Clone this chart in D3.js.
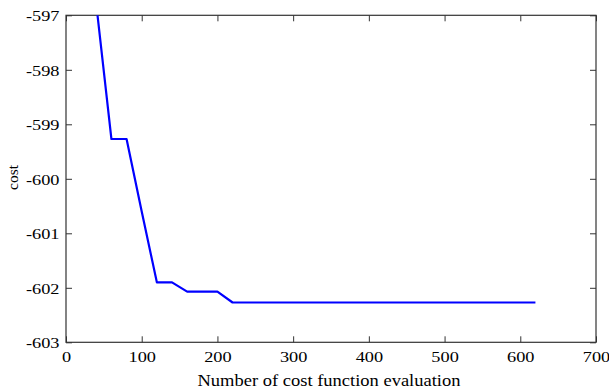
<!DOCTYPE html>
<html><head><meta charset="utf-8">
<script src="https://cdn.jsdelivr.net/npm/d3@7"></script>
<style>
html,body{margin:0;padding:0;background:#fff;}
svg{display:block;}
svg text{font-family:"Liberation Serif","Times New Roman",serif;}
</style></head>
<body><svg id="c" width="609" height="392"></svg>
<script>
const evals = [40,60,80,100,120,140,160,180,200,220,240,260,280,300,320,340,360,380,400,420,440,460,480,500,520,540,560,580,600,620];
const costs = [-596.8,-599.27,-599.27,-600.6,-601.9,-601.9,-602.07,-602.07,-602.07,-602.27,-602.27,-602.27,-602.27,-602.27,-602.27,-602.27,-602.27,-602.27,-602.27,-602.27,-602.27,-602.27,-602.27,-602.27,-602.27,-602.27,-602.27,-602.27,-602.27,-602.27];
const xTicks = [0,100,200,300,400,500,600,700];
const yTicks = [-597,-598,-599,-600,-601,-602,-603];
const xLabel = "Number of cost function evaluation";
const yLabel = "cost";

const L=66, R=596, T=15.3, B=342.3;
const svg = d3.select("#c");
const x = d3.scaleLinear().domain([0,700]).range([L,R]);
const y = d3.scaleLinear().domain([-603,-597]).range([B,T]);
const axisColor = "#333";
const stretch = 1.22;
const fmt = d => String(d);

svg.append("clipPath").attr("id","clip").append("rect")
  .attr("x",L).attr("y",T).attr("width",R-L).attr("height",B-T);

function style(g){
  g.attr("font-family",null);
  g.select(".domain").remove();
  g.selectAll(".tick line").attr("stroke",axisColor);
}
// bottom
const gb = svg.append("g").attr("transform",`translate(0,${B})`)
  .call(d3.axisBottom(x).tickValues(xTicks).tickSizeInner(-6).tickSizeOuter(0).tickFormat(fmt));
style(gb);
gb.selectAll("text").attr("font-size",15).attr("fill","#000").attr("dy",0).attr("y",20);
// top
const gt = svg.append("g").attr("transform",`translate(0,${T})`)
  .call(d3.axisTop(x).tickValues(xTicks).tickSizeInner(-6).tickSizeOuter(0).tickFormat(""));
style(gt);
// left
const gl = svg.append("g").attr("transform",`translate(${L},0)`)
  .call(d3.axisLeft(y).tickValues(yTicks).tickSizeInner(-6).tickSizeOuter(0).tickFormat(fmt));
style(gl);
gl.selectAll("text").attr("font-size",15).attr("fill","#000").attr("x",-6.5).attr("dy","0.36em");
// right
const gr = svg.append("g").attr("transform",`translate(${R},0)`)
  .call(d3.axisRight(y).tickValues(yTicks).tickSizeInner(-6).tickSizeOuter(0).tickFormat(""));
style(gr);

// frame
svg.append("rect").attr("x",L).attr("y",T).attr("width",R-L).attr("height",B-T)
  .attr("fill","none").attr("stroke",axisColor).attr("stroke-width",1.2);

// stretch tick labels horizontally
svg.selectAll(".tick text").each(function(){
  const len = this.getComputedTextLength();
  if(len>0){ d3.select(this).attr("textLength",len*stretch).attr("lengthAdjust","spacingAndGlyphs"); }
});

// line
const line = d3.line().x((d,i)=>x(evals[i])).y(d=>y(d));
svg.append("path").datum(costs).attr("clip-path","url(#clip)")
  .attr("d",line).attr("fill","none").attr("stroke","#0000ff").attr("stroke-width",2.2)
  .attr("stroke-linejoin","round");

// labels
svg.append("text").attr("x",329).attr("y",386).attr("text-anchor","middle")
  .attr("font-size",17).attr("textLength",263).attr("lengthAdjust","spacingAndGlyphs").text(xLabel);
svg.append("text").attr("transform","translate(17.5,177.5) rotate(-90)").attr("text-anchor","middle")
  .attr("font-size",15.5).text(yLabel);
</script></body></html>
